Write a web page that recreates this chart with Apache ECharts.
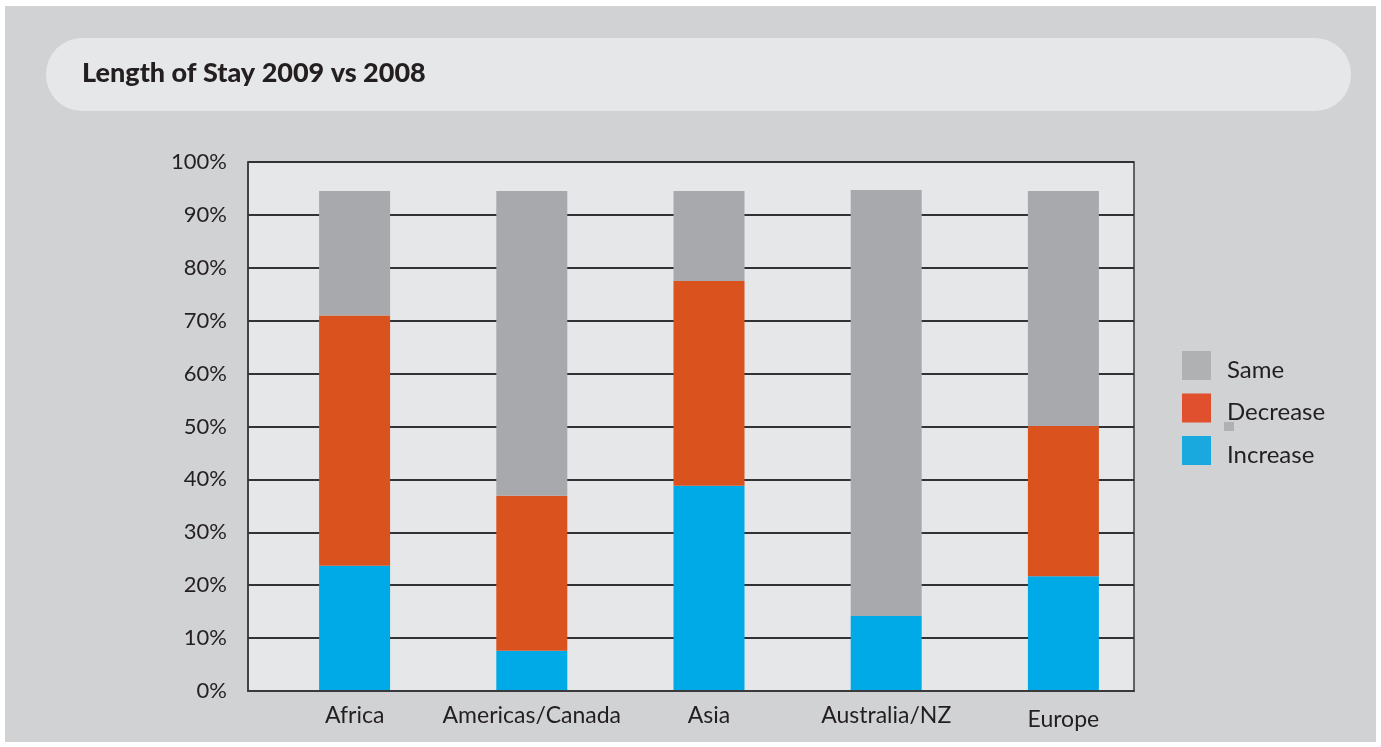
<!DOCTYPE html>
<html>
<head>
<meta charset="utf-8">
<script src="https://cdn.jsdelivr.net/npm/echarts@6/dist/echarts.min.js"></script>
<style>
  html, body { margin: 0; padding: 0; background: #ffffff; }
  #chart { width: 1381px; height: 747px; }
</style>
</head>
<body>
<div id="chart"></div>
<script>
// Regions and the share of respondents reporting each change in length of stay (%)
const categories = ['Africa', 'Americas/Canada', 'Asia', 'Australia/NZ', 'Europe'];
const increase = [23.7, 7.6, 38.8, 14.2, 21.7];
const decrease = [47.3, 29.3, 38.7, 0, 28.4];
const same = [23.5, 57.6, 17.0, 80.5, 44.4];
const yTicks = { min: 0, max: 100, interval: 10 };

const FONT = 'Lato, "Open Sans", sans-serif';
const TEXT = '#231f20';

// The last region label sits a few pixels lower than the others
const categoryLabels = categories.map((name, i) =>
  i === categories.length - 1 ? { value: name, textStyle: { padding: [4, 0, 0, 0] } } : name);

const chart = echarts.init(document.getElementById('chart'), null, { renderer: 'canvas' });

chart.setOption({
  animation: false,
  backgroundColor: '#ffffff',
  graphic: [
    { type: 'rect', z: -10, shape: { x: 5, y: 6, width: 1371, height: 736 },
      style: { fill: '#d1d2d4' } },
    { type: 'rect', z: -9, shape: { x: 46, y: 38, width: 1305, height: 73, r: 36 },
      style: { fill: '#e6e7e9' } },
    { type: 'rect', z: 10, shape: { x: 1224, y: 422, width: 10, height: 9 },
      style: { fill: '#b0b1b3' } }
  ],
  title: {
    text: 'Length of Stay 2009 vs 2008',
    left: 82, top: 60,
    padding: 0,
    textStyle: { fontFamily: FONT, fontWeight: 900, fontSize: 27, color: TEXT }
  },
  legend: {
    orient: 'vertical',
    left: 1182, top: 351,
    padding: 0,
    itemWidth: 29, itemHeight: 29, itemGap: 11.5,
    icon: 'rect',
    data: [
      { name: 'Same', itemStyle: { color: '#b0b1b3' } },
      { name: 'Decrease', itemStyle: { color: '#e04f2e' } },
      { name: 'Increase', itemStyle: { color: '#1aa9df' } }
    ],
    formatter: '{t|{name}}',
    textStyle: {
      fontFamily: FONT, fontSize: 24, color: TEXT, padding: [0, 0, 0, 11],
      rich: { t: { fontFamily: FONT, fontSize: 24, color: TEXT, padding: [9, 0, 0, 0] } }
    }
  },
  grid: [
    { left: 248, top: 162, width: 886, height: 529, show: true,
      backgroundColor: '#e6e7e8', borderColor: '#3a3a3c', borderWidth: 1.5 },
    { left: 266, top: 162, width: 886, height: 529 }
  ],
  xAxis: [
    { type: 'category', gridIndex: 0, data: categories, z: 5,
      axisLine: { show: true, lineStyle: { color: '#3a3a3c', width: 2 } },
      axisTick: { show: false }, axisLabel: { show: false }, splitLine: { show: false } },
    { type: 'category', gridIndex: 1, data: categoryLabels,
      axisLine: { show: false }, axisTick: { show: false },
      axisLabel: { interval: 0, fontFamily: FONT, fontSize: 23, color: TEXT, margin: 13 } }
  ],
  yAxis: [
    { type: 'value', gridIndex: 0, min: yTicks.min, max: yTicks.max, interval: yTicks.interval,
      axisLine: { show: true, lineStyle: { color: '#3a3a3c', width: 1.5 } },
      axisTick: { show: false },
      axisLabel: { formatter: '{value}%', fontFamily: FONT, fontSize: 22, color: TEXT, margin: 21 },
      splitLine: { show: true, lineStyle: { color: '#333335', width: 2 } } },
    { type: 'value', gridIndex: 1, min: yTicks.min, max: yTicks.max, interval: yTicks.interval,
      show: false, splitLine: { show: false } }
  ],
  series: [
    { name: 'Increase', type: 'bar', stack: 'stay', xAxisIndex: 1, yAxisIndex: 1,
      barWidth: 71, data: increase, itemStyle: { color: '#00aae7' } },
    { name: 'Decrease', type: 'bar', stack: 'stay', xAxisIndex: 1, yAxisIndex: 1,
      barWidth: 71, data: decrease, itemStyle: { color: '#da531f' } },
    { name: 'Same', type: 'bar', stack: 'stay', xAxisIndex: 1, yAxisIndex: 1,
      barWidth: 71, data: same, itemStyle: { color: '#a7a9ac' } }
  ]
});
</script>
</body>
</html>
